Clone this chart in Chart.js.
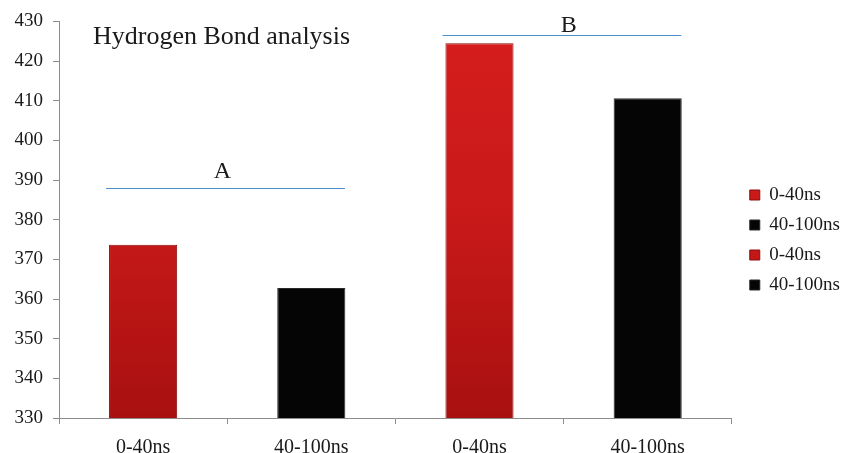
<!DOCTYPE html>
<html>
<head>
<meta charset="utf-8">
<script src="https://cdn.jsdelivr.net/npm/chart.js@4/dist/chart.umd.min.js"></script>
<style>
  html, body { margin: 0; padding: 0; background: #ffffff; }
  #wrap { width: 843px; height: 453px; position: relative; }
</style>
</head>
<body>
<div id="wrap"><canvas id="hb"></canvas></div>
<script>
// Hydrogen bond counts per simulation window, two systems (A, B)
const categories = ['0-40ns', '40-100ns', '0-40ns', '40-100ns'];
const seriesLabels = ['0-40ns', '40-100ns', '0-40ns', '40-100ns'];
const hbondCounts = [373.7, 362.8, 424.5, 410.6];
const yTicks = [330, 340, 350, 360, 370, 380, 390, 400, 410, 420, 430];
const groupNames = ['A', 'B'];
const groupMembers = [[0, 1], [2, 3]];
const chartTitle = 'Hydrogen Bond analysis';

const SERIF = "'Liberation Serif', 'Times New Roman', serif";
const TEXT = '#1a1a1a';
const AXIS = '#8c8c8c';

// bracket line level and letter baseline (value units), letter nudge (fraction of a category)
const bracketStyle = [
  { line: 388.0, letter: 390.4, nudge: -0.018 },
  { line: 426.6, letter: 427.3, nudge: 0.04 }
];

function redFill(ctx) {
  const chart = ctx.chart;
  const area = chart.chartArea;
  if (!area) return '#c41616';
  const g = chart.ctx.createLinearGradient(0, area.top, 0, area.bottom);
  g.addColorStop(0, '#d61d1d');
  g.addColorStop(0.5, '#c81919');
  g.addColorStop(1, '#a81010');
  return g;
}

const isRed = i => i % 2 === 0;

// one dataset per bar so every bar gets its own legend entry
const datasets = hbondCounts.map((v, i) => ({
  label: seriesLabels[i],
  data: categories.map((_, j) => (j === i ? v : null)),
  backgroundColor: isRed(i) ? redFill : '#050505',
  borderColor: isRed(i) ? '#8a0e0e' : '#2a2a2a',
  borderWidth: 1,
  borderSkipped: 'bottom',
  skipNull: true,
  categoryPercentage: 1.0,
  barPercentage: 0.405
}));

// the legend sits a little further from the plot than Chart.js puts it
const legendNudge = {
  id: 'legendNudge',
  afterLayout(chart) {
    const lg = chart.legend;
    if (!lg) return;
    lg.left += 7;
    lg.right += 7;
    lg.top += 3;
    lg.bottom += 3;
  }
};

const overlay = {
  id: 'overlay',
  afterDatasetsDraw(chart) {
    const { ctx, scales: { x, y } } = chart;
    const step = x.getPixelForTick(1) - x.getPixelForTick(0);
    ctx.save();
    // title inside the plot
    ctx.fillStyle = TEXT;
    ctx.font = '26px ' + SERIF;
    ctx.textAlign = 'left';
    ctx.textBaseline = 'alphabetic';
    ctx.fillText(chartTitle, chart.chartArea.left + 34, y.getPixelForValue(424.4));
    // group brackets
    groupNames.forEach((name, k) => {
      const [a, b] = groupMembers[k];
      const x0 = x.getPixelForTick(a) - 0.22 * step;
      const x1 = x.getPixelForTick(b) + 0.2 * step;
      const ly = Math.round(y.getPixelForValue(bracketStyle[k].line)) + 0.5;
      ctx.strokeStyle = '#4a8fcc';
      ctx.lineWidth = 1;
      ctx.beginPath();
      ctx.moveTo(x0, ly);
      ctx.lineTo(x1, ly);
      ctx.stroke();
      ctx.font = '24px ' + SERIF;
      ctx.textAlign = 'center';
      ctx.fillStyle = TEXT;
      ctx.fillText(name, (x0 + x1) / 2 + bracketStyle[k].nudge * step, y.getPixelForValue(bracketStyle[k].letter));
    });
    ctx.restore();
  }
};

new Chart(document.getElementById('hb'), {
  type: 'bar',
  data: { labels: categories, datasets },
  plugins: [overlay, legendNudge],
  options: {
    responsive: true,
    maintainAspectRatio: false,
    animation: false,
    layout: { padding: { top: 21, right: 0, left: 0, bottom: 0 } },
    plugins: {
      title: { display: false },
      tooltip: { enabled: false },
      legend: {
        position: 'right',
        align: 'center',
        labels: {
          boxWidth: 10,
          boxHeight: 10,
          padding: 11,
          color: TEXT,
          font: { family: SERIF, size: 19 }
        }
      }
    },
    scales: {
      x: {
        offset: true,
        border: { color: AXIS, width: 1 },
        grid: { display: true, offset: true, drawOnChartArea: false, drawTicks: true, tickLength: 6, color: AXIS },
        ticks: { color: TEXT, font: { family: SERIF, size: 20 }, padding: 12 },
        afterFit(s) { s.height = 35; }
      },
      y: {
        min: 330,
        max: 430,
        afterBuildTicks(s) { s.ticks = yTicks.map(v => ({ value: v })); },
        border: { color: AXIS, width: 1 },
        grid: { display: true, drawOnChartArea: false, drawTicks: true, tickLength: 6, color: AXIS },
        ticks: { color: TEXT, font: { family: SERIF, size: 19 }, padding: 10 },
        afterFit(s) { s.width = 59; }
      }
    }
  }
});
</script>
</body>
</html>
